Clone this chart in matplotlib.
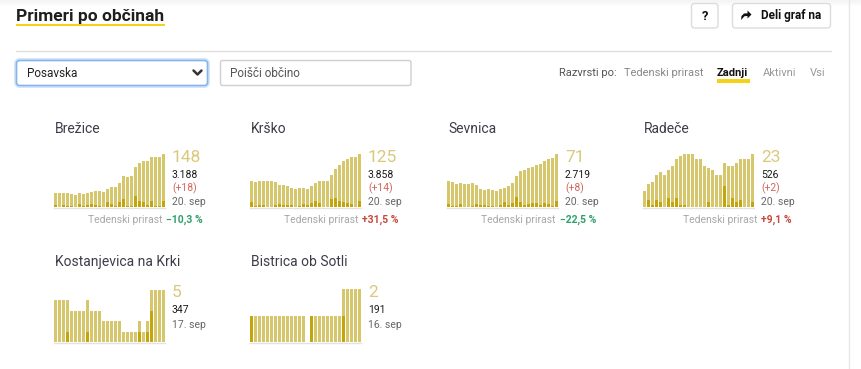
import matplotlib.pyplot as plt
from matplotlib.patches import FancyBboxPatch, Rectangle, Polygon

plt.rcParams['font.family'] = ['Roboto', 'DejaVu Sans']
narrow = ['Liberation Sans Narrow', 'Roboto', 'DejaVu Sans']

# data per municipality (28 days)
towns = ['Brežice', 'Krško', 'Sevnica', 'Radeče', 'Kostanjevica na Krki', 'Bistrica ob Sotli']
totals = ['3.188', '3.858', '2.719', '526', '347', '191']
last_new = ['(+18)', '(+14)', '(+8)', '(+2)', None, None]
dates = ['20. sep', '20. sep', '20. sep', '20. sep', '17. sep', '16. sep']
weekly = ['−10,3 %', '+31,5 %', '−22,5 %', '+9,1 %', None, None]

brezice_active = [39, 39, 39, 39, 36, 34, 39, 36, 39, 42, 45, 45, 42, 50, 56, 56, 67, 87, 84, 87, 112, 123, 128, 128, 140, 140, 140, 148]
brezice_new = [6, 0, 6, 3, 3, 0, 8, 3, 6, 8, 6, 3, 0, 14, 8, 3, 14, 22, 3, 3, 31, 17, 14, 6, 17, 3, 3, 18]
krsko_active = [61, 59, 61, 61, 61, 61, 59, 52, 52, 50, 45, 42, 45, 45, 42, 50, 57, 61, 61, 61, 75, 90, 99, 108, 113, 118, 118, 125]
krsko_new = [12, 2, 5, 5, 0, 0, 5, 7, 5, 5, 5, 0, 2, 7, 5, 9, 14, 9, 0, 0, 19, 21, 14, 12, 9, 7, 0, 14]
sevnica_active = [35, 33, 31, 32, 31, 31, 32, 29, 24, 23, 24, 23, 21, 24, 25, 28, 32, 42, 48, 50, 52, 54, 56, 58, 62, 64, 66, 71]
sevnica_new = [4, 1, 1, 4, 0, 0, 1, 4, 3, 3, 1, 1, 0, 3, 7, 3, 5, 13, 7, 3, 4, 5, 5, 3, 5, 4, 1, 8]
radece_active = [7, 10, 11, 14, 15, 14, 16, 18, 21, 22, 23, 23, 23, 21, 21, 18, 17, 16, 14, 14, 19, 18, 18, 19, 21, 21, 21, 23]
radece_new = [0, 3, 1, 3, 2, 0, 4, 2, 4, 1, 1, 0, 0, 0, 0, 0, 2, 0, 0, 0, 9, 1, 4, 2, 3, 0, 0, 2]
kostanjevica_active = [4, 4, 4, 4, 3, 3, 3, 3, 4, 3, 3, 3, 2, 2, 2, 2, 2, 1, 1, 1, 1, 2, 1, 2, 5, 5, 5, 5]
kostanjevica_new = [0, 0, 0, 1, 0, 0, 0, 0, 1, 0, 0, 0, 0, 0, 0, 0, 0, 0, 0, 0, 0, 1, 0, 1, 3, 0, 0, 0]
bistrica_active = [1, 1, 1, 1, 1, 1, 1, 1, 1, 1, 1, 1, 1, 1, 0, 1, 1, 1, 1, 1, 1, 1, 1, 2, 2, 2, 2, 2]
bistrica_new = [1, 0, 0, 0, 0, 0, 0, 0, 0, 0, 0, 0, 0, 0, 0, 1, 0, 0, 0, 0, 0, 0, 0, 1, 0, 0, 0, 0]

active = [brezice_active, krsko_active, sevnica_active, radece_active, kostanjevica_active, bistrica_active]
new = [brezice_new, krsko_new, sevnica_new, radece_new, kostanjevica_new, bistrica_new]

LIGHT = '#d6c66c'
DARK = '#c4a50c'
YELLOW = '#f7d117'

W, H = 862, 369
fig = plt.figure(figsize=(W / 100, H / 100), dpi=100)
bg = fig.add_axes([0, 0, 1, 1])
bg.set_xlim(0, W)
bg.set_ylim(H, 0)
bg.axis('off')

# top shadow + right border
for i in range(6):
    bg.add_patch(Rectangle((0, i), W, 1, color='k', alpha=0.045 * (6 - i) / 6, lw=0))
bg.plot([849, 849], [0, H], color='#e6e6e6', lw=1)

# header
bg.text(16, 21, 'Primeri po občinah', family=narrow, weight='bold', fontsize=12.5,
        color='#1e1e1e', va='baseline')
bg.add_patch(Rectangle((16, 23.5), 149, 2.5, color=YELLOW, lw=0))

bg.add_patch(FancyBboxPatch((691.5, 3.5), 26.5, 24.5, boxstyle='round,pad=0,rounding_size=3',
                            fc='white', ec='#dcdcdc', lw=1))
bg.text(705, 16, '?', family=narrow, weight='bold', fontsize=9.5, color='#111', ha='center', va='center')
bg.add_patch(FancyBboxPatch((732.5, 3.5), 98, 24.5, boxstyle='round,pad=0,rounding_size=3',
                            fc='white', ec='#dcdcdc', lw=1))
bg.add_patch(Polygon([(741, 20), (741.5, 16), (744, 13.5), (747.5, 13.3), (747.5, 10.5),
                      (751.5, 14.5), (747.5, 18.5), (747.5, 16), (744.5, 16.2)], closed=True,
                     fc='#111', ec='none'))
bg.text(761, 16, 'Deli graf na', family=narrow, weight='bold', fontsize=8.5, color='#111', va='center')

bg.plot([16, 831], [51, 51], color='#dedede', lw=1)

# controls
bg.add_patch(FancyBboxPatch((16.5, 60.5), 191, 25, boxstyle='round,pad=0,rounding_size=3',
                            fc='white', ec='#d3e5fa', lw=3.5))
bg.add_patch(FancyBboxPatch((16.5, 60.5), 191, 25, boxstyle='round,pad=0,rounding_size=3',
                            fc='white', ec='#86b5ec', lw=1.2))
bg.text(27, 77, 'Posavska', family=narrow, fontsize=8.5, color='#222', va='baseline')
bg.plot([193.5, 197.5, 201.5], [70.5, 74.5, 70.5], color='#333', lw=1.8, solid_capstyle='round')
bg.add_patch(FancyBboxPatch((220.5, 60.5), 190.5, 25, boxstyle='round,pad=0,rounding_size=2',
                            fc='white', ec='#cfcfcf', lw=1))
bg.text(230, 77, 'Poišči občino', family=narrow, fontsize=8.5, color='#555', va='baseline')

bg.text(559, 76, 'Razvrsti po:', family=narrow, fontsize=8, color='#555', va='baseline')
bg.text(624, 76, 'Tedenski prirast', family=narrow, fontsize=8, color='#888', va='baseline')
bg.add_patch(Rectangle((717, 78.5), 33, 4, color=YELLOW, lw=0))
bg.text(717, 76, 'Zadnji', family=narrow, fontsize=8, weight='bold', color='#111', va='baseline')
bg.text(763, 76, 'Aktivni', family=narrow, fontsize=8, color='#999', va='baseline')
bg.text(810, 76, 'Vsi', family=narrow, fontsize=8, color='#999', va='baseline')

# small multiples
lefts = [54, 250, 447, 643, 54, 250]
bases = [207, 207, 207, 207, 342, 342]
heights = [53, 53, 53, 53, 52, 53]
renderer = fig.canvas.get_renderer()

for i, name in enumerate(towns):
    L, base, hp = lefts[i], bases[i], heights[i]
    ax = fig.add_axes([L / W, 1 - base / H, 112 / W, hp / H])
    x = range(len(active[i]))
    ax.bar(x, active[i], width=0.75, color=LIGHT, lw=0)
    ax.bar(x, new[i], width=0.75, color=DARK, lw=0)
    ax.set_xlim(-0.375, 27.625)
    ax.set_ylim(0, max(active[i]))
    ax.axis('off')
    bg.plot([L, L + 111], [base + 1, base + 1], color='#e3e3e3', lw=1)

    title_y = 133 if base == 207 else 266
    bg.text(L + 1, title_y, name, fontsize=10, color='#3d3d4a', va='baseline')
    bg.text(L + 118, base - 45, str(active[i][-1]), fontsize=12.5, color='#d8c97c', va='baseline')
    bg.text(L + 118, base - 29, totals[i], fontsize=7.5, color='#1a1a1a', va='baseline')
    if last_new[i]:
        bg.text(L + 118, base - 16, last_new[i], fontsize=7.5, color='#d0675c', va='baseline')
        bg.text(L + 118, base - 2, dates[i], fontsize=7.5, color='#666', va='baseline')
    else:
        bg.text(L + 118, base - 14, dates[i], fontsize=7.5, color='#666', va='baseline')
    if weekly[i]:
        col = '#2fa06b' if weekly[i].startswith('−') else '#c8483a'
        t = bg.text(L + 149, base + 16, weekly[i], fontsize=7.5, weight='bold', color=col,
                    ha='right', va='baseline')
        w = t.get_window_extent(renderer).width
        bg.text(L + 149 - w - 4, base + 16, 'Tedenski prirast', fontsize=7.5, color='#a8a8a8',
                ha='right', va='baseline')

fig.savefig('out.png', dpi=100)
